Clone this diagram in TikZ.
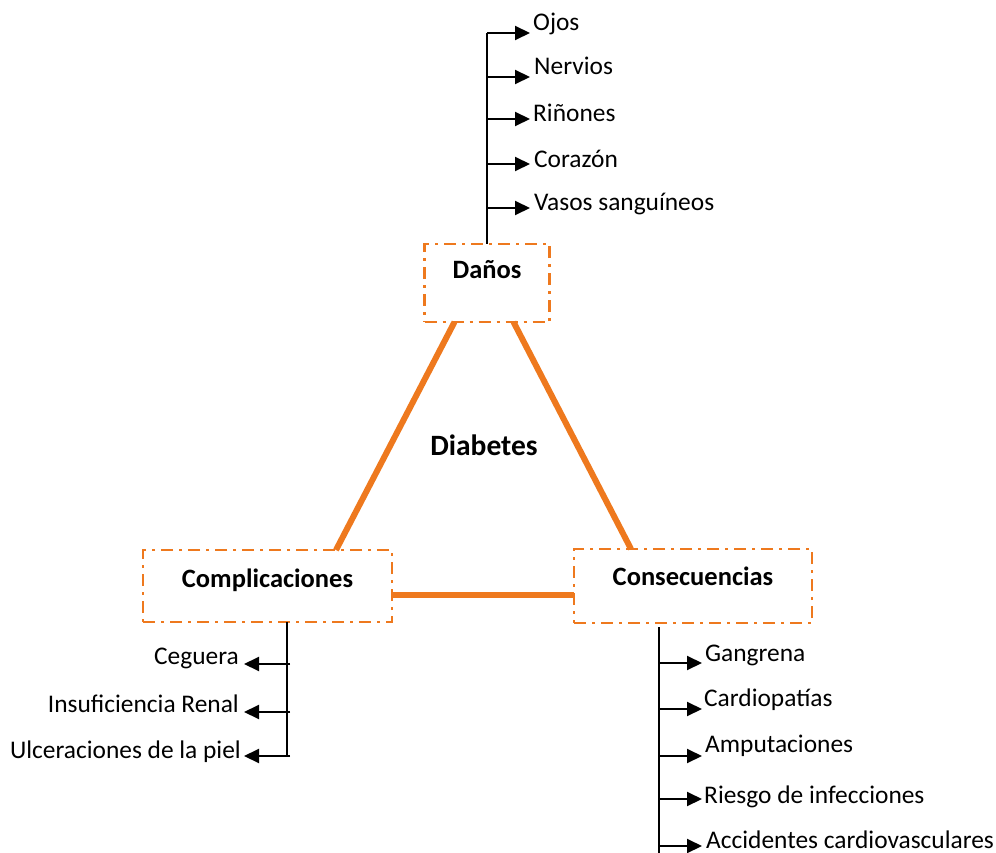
\documentclass[tikz,border=0pt]{standalone}
\usepackage{fontspec}
\setmainfont{Carlito}
\usetikzlibrary{arrows.meta}
\definecolor{accent}{RGB}{238,121,30}
\begin{document}
\begin{tikzpicture}[x=1pt,y=-1pt,
  box/.style={draw=accent, line width=2.6pt, dash pattern=on 12pt off 6pt on 3pt off 6pt,
    rectangle, inner sep=0pt, outer sep=0pt},
  head/.style={font=\fontsize{26.5}{31}\selectfont\bfseries, inner sep=0pt},
  title/.style={font=\fontsize{29.5}{34}\selectfont\bfseries, inner sep=0pt},
  item/.style={font=\fontsize{25.4}{30}\selectfont, inner ysep=0pt, inner xsep=3pt},
  branch/.style={line width=2pt, -{Triangle[length=15pt,width=14pt]}},
  stem/.style={line width=2pt},
  tie/.style={draw=accent, line width=6pt}]
\useasboundingbox (0,0) rectangle (996,853);

% three boxes of the triangle
\node[box, minimum width=125pt, minimum height=78pt] (danos) at (487,283) {};
\node[box, minimum width=249pt, minimum height=72pt] (comp) at (267.5,586) {};
\node[box, minimum width=238pt, minimum height=74pt] (cons) at (693,586) {};

\node[head, anchor=base] (danosT) at (487,278) {Daños};
\node[head, anchor=base] (compT) at (267.5,587) {Complicaciones};
\node[head, anchor=base] (consT) at (693,585) {Consecuencias};
\node[title, anchor=base] (diab) at (484,455) {Diabetes};

% sides of the triangle
\draw[tie] ([xshift=30pt]danos.south west) -- ([xshift=193pt]comp.north west);
\draw[tie] ([xshift=-36pt]danos.south east) -- ([xshift=57pt]cons.north west);
\draw[tie] ([yshift=-9pt]comp.east) -- ([yshift=-9pt]comp.east -| cons.west);

% Daños: list above the box
\coordinate (d1) at (487,33);
\coordinate (d2) at (487,77);
\coordinate (d3) at (487,119);
\coordinate (d4) at (487,164);
\coordinate (d5) at (487,208);
\draw[stem] (danos.north) -- (d1);
\node[item, anchor=base west] (ojos) at (530,31) {Ojos};
\node[item, anchor=base west] (nerv) at (531,75) {Nervios};
\node[item, anchor=base west] (rin) at (530,122) {Riñones};
\node[item, anchor=base west] (cor) at (531,168) {Corazón};
\node[item, anchor=base west] (vas) at (531,211) {Vasos sanguíneos};
\draw[branch] (d1) -- (d1 -| ojos.west);
\draw[branch] (d2) -- (d2 -| ojos.west);
\draw[branch] (d3) -- (d3 -| ojos.west);
\draw[branch] (d4) -- (d4 -| ojos.west);
\draw[branch] (d5) -- (d5 -| ojos.west);

% Complicaciones: list to the left
\coordinate (cend) at (287,757);
\coordinate (c1) at (290,664);
\coordinate (c2) at (290,712);
\coordinate (c3) at (290,756);
\draw[stem] ([xshift=19.5pt]comp.south) -- (cend);
\node[item, anchor=base east, inner xsep=5pt] (ceg) at (244,664) {Ceguera};
\node[item, anchor=base east, inner xsep=5pt] (ins) at (244,712) {Insuficiencia Renal};
\node[item, anchor=base east, inner xsep=3pt] (ulc) at (244,758) {Ulceraciones de la piel};
\draw[branch] (c1) -- (c1 -| ceg.east);
\draw[branch] (c2) -- (c2 -| ceg.east);
\draw[branch] (c3) -- (c3 -| ceg.east);

% Consecuencias: list below
\coordinate (kend) at (659,853);
\coordinate (k1) at (659,663);
\coordinate (k2) at (659,709);
\coordinate (k3) at (659,756);
\coordinate (k4) at (659,799);
\coordinate (k5) at (659,846);
\draw[stem] ([shift={(-34pt,-4pt)}]cons.south) -- (kend);
\node[item, anchor=base west] (gan) at (702,661) {Gangrena};
\node[item, anchor=base west] (card) at (701,706) {Cardiopatías};
\node[item, anchor=base west] (amp) at (702,752) {Amputaciones};
\node[item, anchor=base west] (rie) at (701,803) {Riesgo de infecciones};
\node[item, anchor=base west] (acc) at (703,848) {Accidentes cardiovasculares};
\draw[branch] (k1) -- (k1 -| gan.west);
\draw[branch] (k2) -- (k2 -| gan.west);
\draw[branch] (k3) -- (k3 -| gan.west);
\draw[branch] (k4) -- (k4 -| gan.west);
\draw[branch] (k5) -- (k5 -| gan.west);
\end{tikzpicture}
\end{document}
